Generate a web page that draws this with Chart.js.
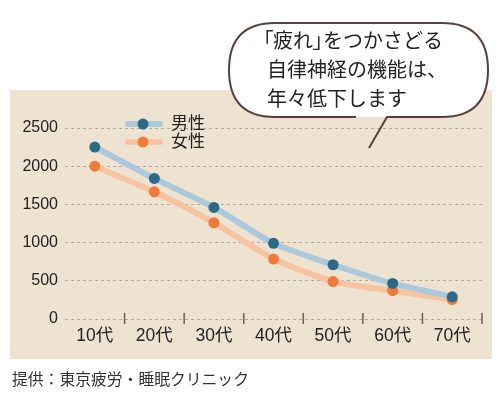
<!DOCTYPE html>
<html>
<head>
<meta charset="utf-8">
<script src="https://cdn.jsdelivr.net/npm/chart.js@4.4.0/dist/chart.umd.min.js"></script>
<style>
  html, body { margin: 0; padding: 0; background: #fff; }
  #wrap { position: relative; width: 500px; height: 400px; overflow: hidden; }
  #chart { position: absolute; left: 0; top: 0; }
  #bubble { position: absolute; left: 0; top: 0; }
  .msg {
    position: absolute; left: 267px; top: 25px;
    font-family: "Noto Sans CJK JP", sans-serif; font-size: 20px; line-height: 29px;
    color: #222; white-space: nowrap;
  }
  .msg .br { font-feature-settings: "palt"; }
  .msg .l1 { margin-left: -4px; }
  .credit {
    position: absolute; left: 12px; top: 367px;
    font-family: "Noto Sans CJK JP", sans-serif; font-size: 15.8px; color: #333;
    white-space: nowrap;
  }
</style>
</head>
<body>
<div id="wrap">
  <canvas id="chart" width="500" height="400"></canvas>
  <svg id="bubble" width="500" height="400">
    <path d="M 356 117 L 275 117 Q 229 117 229 70 Q 229 23 275 23 L 442 23 Q 488 23 488 70 Q 488 117 442 117 L 387 117 Z"
          fill="#fff" stroke="none"/>
    <path d="M 356 117 L 275 117 Q 229 117 229 70 Q 229 23 275 23 L 442 23 Q 488 23 488 70 Q 488 117 442 117 L 387 117 L 369 148"
          fill="none" stroke="#5a3f3f" stroke-width="2" stroke-linejoin="round"/>
  </svg>
  <div class="msg">
    <div class="l1"><span class="br">「</span>疲れ<span class="br">」</span>をつかさどる</div>
    <div>自律神経の機能は、</div>
    <div>年々低下します</div>
  </div>
  <div class="credit">提供：東京疲労・睡眠クリニック</div>
</div>
<script>
// data
const ageGroups = ['10代', '20代', '30代', '40代', '50代', '60代', '70代'];
const maleValues = [2250, 1840, 1460, 990, 710, 465, 290];
const femaleValues = [2000, 1665, 1260, 785, 490, 370, 255];
const seriesNames = ['男性', '女性'];
const yTickValues = [0, 500, 1000, 1500, 2000, 2500];

const tickFont = '"Liberation Sans", "Noto Sans CJK JP", sans-serif';

// beige backdrop behind the plot
const panelBg = {
  id: 'panelBg',
  beforeDraw(chart) {
    const ctx = chart.ctx;
    ctx.save();
    ctx.fillStyle = '#eee2d0';
    ctx.fillRect(10, 90, 482, 269);
    ctx.restore();
  }
};

// short tick marks between categories, crossing the zero line
const catTicks = {
  id: 'catTicks',
  afterDatasetsDraw(chart) {
    const x = chart.scales.x, y = chart.scales.y;
    const ctx = chart.ctx;
    const y0 = y.getPixelForValue(0);
    const n = ageGroups.length;
    const step = x.getPixelForValue(1) - x.getPixelForValue(0);
    ctx.save();
    ctx.strokeStyle = '#6e5c52';
    ctx.lineWidth = 1.5;
    for (let i = 0; i < n; i++) {
      const px = x.getPixelForValue(i) + step / 2;
      ctx.beginPath();
      ctx.moveTo(px, y0 - 6);
      ctx.lineTo(px, y0 + 5);
      ctx.stroke();
    }
    ctx.restore();
  }
};

// legend: thick pale line with a dot on it, name to the right
const lineLegend = {
  id: 'lineLegend',
  afterDraw(chart) {
    const ctx = chart.ctx;
    const rows = [124, 142];
    ctx.save();
    chart.data.datasets.forEach((ds, i) => {
      const yy = rows[i];
      ctx.strokeStyle = ds.borderColor;
      ctx.lineWidth = 6;
      ctx.lineCap = 'round';
      ctx.beginPath();
      ctx.moveTo(128, yy);
      ctx.lineTo(160, yy);
      ctx.stroke();
      ctx.fillStyle = ds.pointBackgroundColor;
      ctx.beginPath();
      ctx.arc(143, yy, 5.5, 0, Math.PI * 2);
      ctx.fill();
      ctx.fillStyle = '#222';
      ctx.font = '17px "Noto Sans CJK JP", sans-serif';
      ctx.textBaseline = 'middle';
      ctx.fillText(ds.label, 171, yy - 1);
    });
    ctx.restore();
  }
};

new Chart(document.getElementById('chart'), {
  type: 'line',
  data: {
    labels: ageGroups,
    datasets: [
      {
        label: seriesNames[0],
        data: maleValues,
        borderColor: '#abc9dc',
        borderWidth: 6,
        tension: 0.2,
        pointRadius: 5.5,
        pointBackgroundColor: '#2c6987',
        pointBorderWidth: 0
      },
      {
        label: seriesNames[1],
        data: femaleValues,
        borderColor: '#f7c4a2',
        borderWidth: 6,
        tension: 0.2,
        pointRadius: 5.5,
        pointBackgroundColor: '#ee7b3b',
        pointBorderWidth: 0
      }
    ]
  },
  options: {
    responsive: false,
    animation: false,
    layout: { padding: { left: 0, right: 18, top: 128, bottom: 51 } },
    plugins: { legend: { display: false }, tooltip: { enabled: false } },
    scales: {
      x: {
        offset: true,
        grid: { display: false, drawTicks: false },
        border: { display: false },
        ticks: { color: '#222', font: { family: tickFont, size: 17.5 }, padding: 7 },
        afterFit(scale) { scale.height = 30; }
      },
      y: {
        min: 0,
        max: 2500,
        afterBuildTicks(scale) { scale.ticks = yTickValues.map(v => ({ value: v })); },
        grid: { color: '#b2a99d', lineWidth: 1, drawTicks: false },
        border: { display: false, dash: [3, 3] },
        ticks: {
          color: '#222',
          font: { family: tickFont, size: 16 },
          padding: 7,
          callback: v => String(v)
        },
        afterFit(scale) { scale.width = 65; }
      }
    }
  },
  plugins: [panelBg, catTicks, lineLegend]
});
</script>
</body>
</html>
